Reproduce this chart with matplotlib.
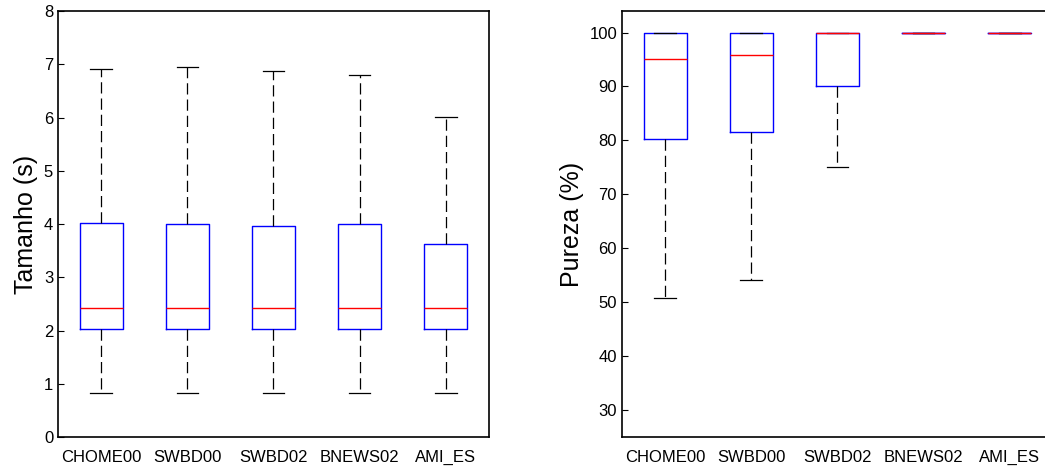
import matplotlib
matplotlib.use("Agg")
import matplotlib.pyplot as plt

plt.rcParams['font.family'] = ['Liberation Sans', 'DejaVu Sans']

labels = ["CHOME00", "SWBD00", "SWBD02", "BNEWS02", "AMI_ES"]

# Tamanho (s)
tam_whislo = [0.82, 0.82, 0.82, 0.82, 0.82]
tam_q1 = [2.02, 2.02, 2.02, 2.02, 2.02]
tam_med = [2.42, 2.42, 2.42, 2.42, 2.42]
tam_q3 = [4.02, 4.00, 3.97, 4.00, 3.62]
tam_whishi = [6.92, 6.95, 6.87, 6.80, 6.01]

# Pureza (%)
pur_whislo = [50.8, 54.2, 75.1, 100.0, 100.0]
pur_q1 = [80.3, 81.6, 90.0, 100.0, 100.0]
pur_med = [95.1, 95.9, 100.0, 100.0, 100.0]
pur_q3 = [100.0, 100.0, 100.0, 100.0, 100.0]
pur_whishi = [100.0, 100.0, 100.0, 100.0, 100.0]


def make_stats(lo, q1, med, q3, hi):
    stats = []
    for i in range(len(labels)):
        stats.append({"label": labels[i], "whislo": lo[i], "q1": q1[i],
                      "med": med[i], "q3": q3[i], "whishi": hi[i], "fliers": []})
    return stats


def draw(ax, stats, ylim, yticks, ylabel):
    ax.bxp(stats, positions=range(1, len(stats) + 1), widths=0.5, capwidths=0.25,
           showfliers=False,
           boxprops=dict(color="blue", linewidth=1),
           medianprops=dict(color="red", linewidth=1),
           whiskerprops=dict(color="black", linewidth=0.9, linestyle=(0, (9, 4))),
           capprops=dict(color="black", linewidth=0.9))
    ax.set_xlim(0.5, len(stats) + 0.5)
    ax.set_ylim(*ylim)
    ax.set_yticks(yticks)
    ax.set_ylabel(ylabel, fontsize=18, labelpad=4)
    ax.tick_params(axis="y", direction="in", length=4, labelsize=12, right=False)
    ax.tick_params(axis="x", length=0, labelsize=12, pad=9)
    for s in ax.spines.values():
        s.set_linewidth(1.2)


fig = plt.figure(figsize=(10.45, 4.68), dpi=100)
ax1 = fig.add_axes([0.0555, 0.0662, 0.4124, 0.9103])
ax2 = fig.add_axes([0.5952, 0.0662, 0.4124, 0.9103])

draw(ax1, make_stats(tam_whislo, tam_q1, tam_med, tam_q3, tam_whishi),
     (0, 8), range(0, 9), "Tamanho (s)")
draw(ax2, make_stats(pur_whislo, pur_q1, pur_med, pur_q3, pur_whishi),
     (25, 104), range(30, 101, 10), "Pureza (%)")
# the right panel runs past the edge of the picture
ax2.spines["right"].set_visible(False)

fig.savefig("out.png", dpi=100)
